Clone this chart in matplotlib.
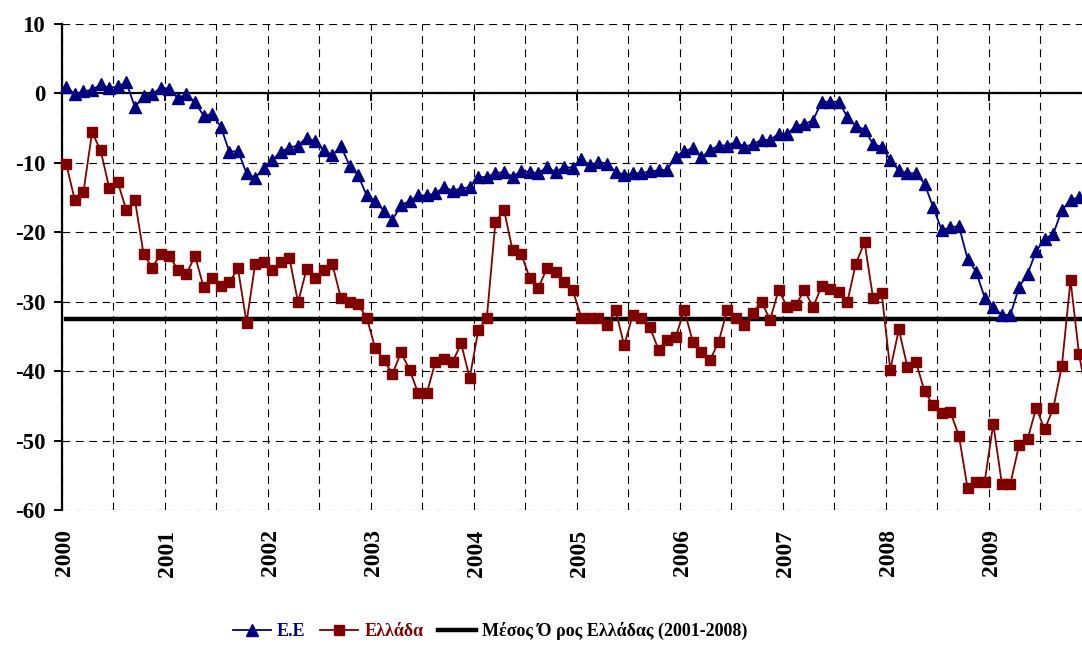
import matplotlib
matplotlib.use("Agg")
import matplotlib.pyplot as plt
import matplotlib.transforms as mtransforms
import numpy as np

plt.rcParams["font.family"] = ["Liberation Serif", "DejaVu Serif"]
plt.rcParams["font.weight"] = "bold"
plt.rcParams["axes.unicode_minus"] = False

# monthly values, Jan 2000 - Dec 2009
years = list(range(2000, 2010))

eu_values = [
    0.9, -0.1, 0.3, 0.5, 1.3, 0.8, 1.0, 1.6, -2.0, -0.4, -0.1, 0.8,
    0.7, -0.7, -0.1, -1.3, -3.2, -3.0, -4.8, -8.4, -8.3, -11.5, -12.2, -10.7,
    -9.6, -8.4, -7.8, -7.5, -6.4, -6.9, -8.2, -8.9, -7.6, -10.4, -11.8, -14.7,
    -15.5, -16.9, -18.2, -16.1, -15.5, -14.7, -14.7, -14.4, -13.5, -14.0, -13.7, -13.5,
    -12.1, -12.0, -11.5, -11.3, -12.0, -11.2, -11.3, -11.5, -10.6, -11.3, -10.6, -10.7,
    -9.5, -10.3, -9.9, -10.1, -11.3, -11.7, -11.5, -11.5, -11.2, -11.1, -11.0, -9.1,
    -8.3, -7.9, -9.2, -8.2, -7.5, -7.5, -7.0, -7.7, -7.3, -6.7, -6.7, -5.8,
    -5.8, -4.7, -4.4, -3.9, -1.2, -1.2, -1.2, -3.4, -4.7, -5.2, -7.3, -7.7,
    -9.6, -11.1, -11.5, -11.5, -13.0, -16.4, -19.7, -19.3, -19.1, -23.8, -25.7, -29.4,
    -30.8, -31.9, -31.9, -27.9, -26.0, -22.7, -21.0, -20.2, -16.8, -15.4, -14.9, -14.5,
]

greece_values = [
    -10.2, -15.4, -14.2, -5.6, -8.2, -13.6, -12.8, -16.8, -15.4, -23.1, -25.1, -23.1,
    -23.4, -25.4, -26.0, -23.4, -27.9, -26.6, -27.8, -27.2, -25.2, -33.0, -24.6, -24.3,
    -25.4, -24.3, -23.7, -30.1, -25.3, -26.6, -25.4, -24.6, -29.5, -30.1, -30.4, -32.3,
    -36.7, -38.4, -40.4, -37.3, -39.8, -43.2, -43.2, -38.7, -38.3, -38.7, -36.0, -41.0,
    -34.1, -32.3, -18.5, -16.8, -22.6, -23.1, -26.6, -28.0, -25.2, -25.7, -27.2, -28.3,
    -32.3, -32.3, -32.3, -33.4, -31.2, -36.3, -31.9, -32.3, -33.7, -36.9, -35.5, -35.1,
    -31.2, -35.8, -37.3, -38.4, -35.8, -31.2, -32.3, -33.3, -31.6, -30.0, -32.6, -28.3,
    -30.8, -30.5, -28.3, -30.8, -27.8, -28.2, -28.6, -30.0, -24.5, -21.4, -29.5, -28.8,
    -39.8, -34.0, -39.4, -38.7, -42.9, -44.9, -46.1, -45.9, -49.3, -56.8, -56.0, -55.9,
    -47.6, -56.2, -56.2, -50.7, -49.8, -45.3, -48.4, -45.3, -39.2, -26.9, -37.6, -44.2,
]

greece_mean = -32.5

eu_label = "Ε.Ε"
greece_label = "Ελλάδα"
mean_label = "Μέσος Ό ρος Ελλάδας (2001-2008)"

navy = "#000080"
maroon = "#800000"

n = len(eu_values)
x = np.arange(n) + 0.5  # points sit in the middle of each month slot

fig = plt.figure(figsize=(10.82, 6.48), dpi=100)
ax = fig.add_axes([62 / 1082, 1 - 510 / 648, 1 - 62 / 1082, 486 / 648])

ax.plot(x, eu_values, color=navy, lw=1.3, marker="^", ms=8.5,
        mfc=navy, mec=navy, clip_on=False, zorder=4, label=eu_label)
ax.plot(x, greece_values, color=maroon, lw=1.3, marker="s", ms=7,
        mfc=maroon, mec=maroon, clip_on=False, zorder=4, label=greece_label)
ax.plot(x, [greece_mean] * n, color="black", lw=3.2, clip_on=False,
        zorder=3, label=mean_label)

ax.set_xlim(0, 1020 / 8.583)
ax.set_ylim(-60, 10)
ax.set_yticks(np.arange(-60, 11, 10))

ax.set_xticks(np.arange(0, n, 12))
ax.set_xticks(np.arange(6, n, 12), minor=True)
ax.grid(True, which="both", color="black", ls=(0, (7, 5)), lw=0.8)
ax.set_axisbelow(True)

for side in ("top", "right"):
    ax.spines[side].set_visible(False)
ax.spines["bottom"].set_position(("data", 0))
ax.spines["bottom"].set_linewidth(1.6)
ax.spines["left"].set_linewidth(1.6)

ax.tick_params(axis="x", which="major", direction="out", length=6, width=1.4,
               labelbottom=False)
ax.tick_params(axis="x", which="minor", length=0)
ax.tick_params(axis="y", direction="out", length=6, width=1.4, pad=6,
               labelsize=16.5)
for lbl in ax.get_yticklabels():
    lbl.set_fontweight("bold")

trans = mtransforms.blended_transform_factory(ax.transData, ax.transAxes)
for k, yr in enumerate(years):
    ax.text(k * 12 + 0.3, -0.04, str(yr), transform=trans, rotation=90,
            ha="center", va="top", fontsize=17, fontweight="bold")

handles, labels = ax.get_legend_handles_labels()
leg = fig.legend(handles, labels, loc="center", bbox_to_anchor=(0.453, 0.026),
                 ncol=3, frameon=False, prop={"size": 13, "weight": "bold"},
                 handlelength=2.1, handletextpad=0.35, columnspacing=0.8)
for txt, col in zip(leg.get_texts(), [navy, maroon, "black"]):
    txt.set_color(col)

fig.savefig("out.png", dpi=100)
